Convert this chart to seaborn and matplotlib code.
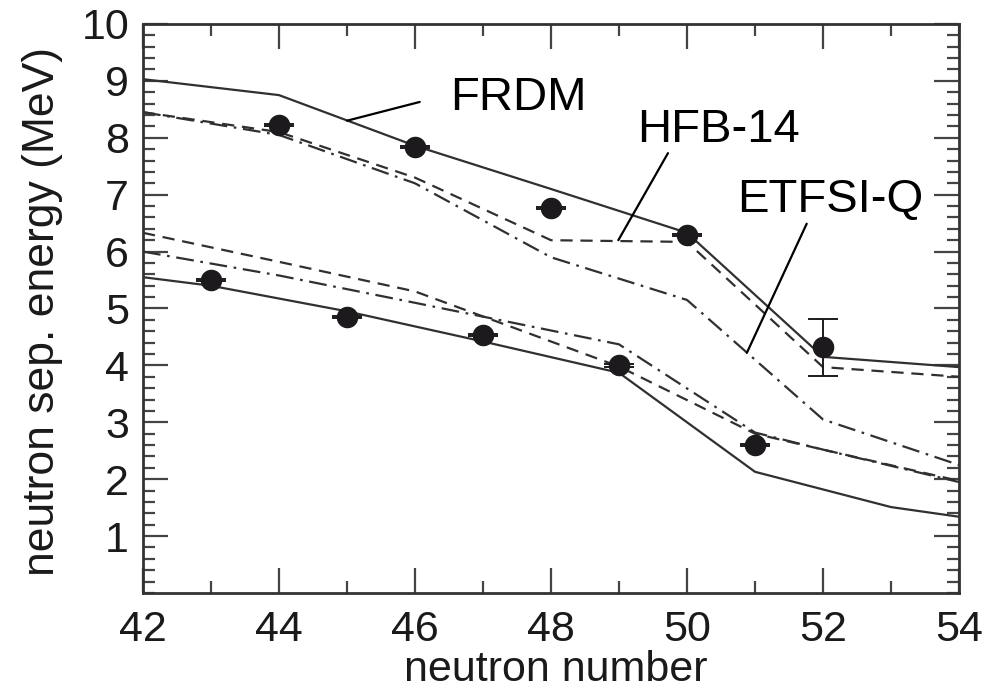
import matplotlib
matplotlib.use("Agg")
import matplotlib.pyplot as plt
import seaborn as sns
import numpy as np
import pandas as pd

# ---------------- data ----------------
# measured points
exp_n = [43, 44, 45, 46, 47, 48, 49, 50, 51, 52]
exp_s = [5.50, 8.22, 4.85, 7.84, 4.53, 6.77, 4.00, 6.29, 2.60, 4.32]
exp_err = [0.02, 0.02, 0.02, 0.02, 0.02, 0.02, 0.02, 0.02, 0.02, 0.50]

# FRDM (solid)
frdm_up_n = [42, 44, 46, 48, 50, 52, 54]
frdm_up_s = [9.03, 8.75, 7.86, 7.10, 6.33, 4.15, 3.97]
frdm_lo_n = [42, 43, 45, 47, 49, 51, 53, 54]
frdm_lo_s = [5.55, 5.40, 4.95, 4.42, 3.87, 2.13, 1.51, 1.34]

# HFB-14 (dashed)
hfb_up_n = [42, 44, 46, 48, 50, 52, 54]
hfb_up_s = [8.45, 8.10, 7.30, 6.20, 6.17, 3.97, 3.80]
hfb_lo_n = [42, 44, 46, 49, 51, 52, 54]
hfb_lo_s = [6.33, 5.82, 5.30, 3.98, 2.80, 2.52, 1.97]

# ETFSI-Q (dash-dot)
etf_up_n = [42, 44, 46, 48, 50, 52, 54]
etf_up_s = [8.45, 8.05, 7.20, 5.90, 5.15, 3.05, 2.25]
etf_lo_n = [42, 44, 46, 49, 51, 52, 54]
etf_lo_s = [6.00, 5.58, 5.10, 4.37, 2.82, 2.52, 1.95]

labels = ["FRDM", "HFB-14", "ETFSI-Q"]

# ---------------- style ----------------
sns.set_theme(style="ticks")
plt.rcParams["font.family"] = ["Liberation Sans", "DejaVu Sans"]

line_col = "#303030"
axis_col = "#333333"

fig = plt.figure(figsize=(10.02, 6.93), dpi=100)
ax = fig.add_axes([0.1427, 0.1443, 0.8144, 0.8211])

solid = "-"
dashed = (0, (5.5, 3.5))
dashdot = (0, (8, 3, 1.2, 3))

series = [
    (frdm_up_n, frdm_up_s, solid),
    (frdm_lo_n, frdm_lo_s, solid),
    (hfb_up_n, hfb_up_s, dashed),
    (hfb_lo_n, hfb_lo_s, dashed),
    (etf_up_n, etf_up_s, dashdot),
    (etf_lo_n, etf_lo_s, dashdot),
]
for xs, ys, ls in series:
    df = pd.DataFrame({"n": xs, "S": ys})
    sns.lineplot(data=df, x="n", y="S", ax=ax, color=line_col, linewidth=1.6,
                 linestyle=ls, sort=False, errorbar=None, legend=False)

ax.errorbar(exp_n, exp_s, yerr=exp_err, fmt="o", color="#1c1a1c", markersize=14.5,
            elinewidth=1.4, capsize=10.5, capthick=1.4, zorder=5)

# annotations
ax.plot([46.07, 45.0], [8.63, 8.30], color="black", lw=1.6)
ax.plot([49.72, 48.99], [7.73, 6.20], color="black", lw=1.6)
ax.plot([51.76, 50.88], [6.49, 4.22], color="black", lw=1.6)
ax.text(46.51, 8.49, labels[0], fontsize=34, ha="left", va="baseline", color="black")
ax.text(49.26, 7.93, labels[1], fontsize=34, ha="left", va="baseline", color="black")
ax.text(50.74, 6.70, labels[2], fontsize=34, ha="left", va="baseline", color="black")

# axes
ax.set_xlim(42, 54)
ax.set_ylim(0, 10)
ax.set_xticks(np.arange(42, 55, 2))
ax.set_xticks(np.arange(42, 55, 1), minor=True)
ax.set_yticks(np.arange(1, 11, 1))
ax.set_yticks(np.arange(0, 10.01, 0.2), minor=True)

ax.tick_params(which="both", direction="in", top=True, right=True,
               color="#444444", labelcolor="#1a1a1a")
ax.tick_params(which="major", length=18, width=1.6, labelsize=31)
ax.tick_params(which="minor", length=8.5, width=1.6)
ax.tick_params(axis="x", which="major", pad=12)
ax.tick_params(axis="y", which="major", pad=10)

for sp in ax.spines.values():
    sp.set_visible(True)
    sp.set_linewidth(2.0)
    sp.set_color(axis_col)

ax.set_xlabel("neutron number", fontsize=31, color="#1a1a1a")
ax.set_ylabel("neutron sep. energy (MeV)", fontsize=32, color="#1a1a1a")
ax.xaxis.set_label_coords(0.506, -0.100)
ax.yaxis.set_label_coords(-0.098, 0.494)

fig.savefig("out.png", dpi=100)
